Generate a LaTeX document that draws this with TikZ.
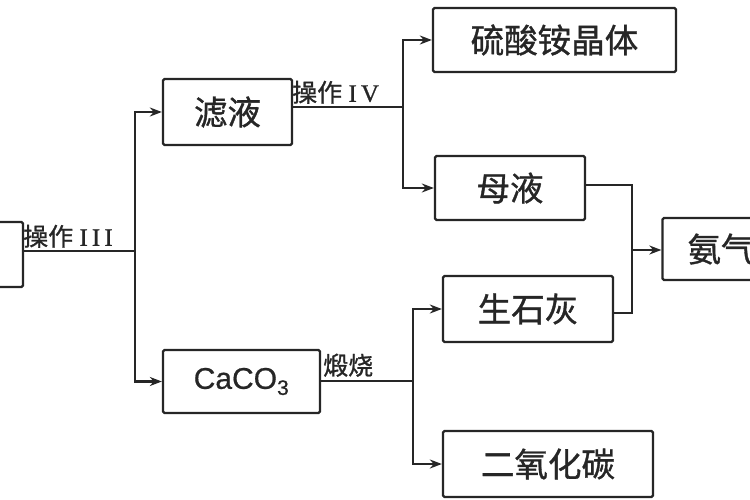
\documentclass[tikz,border=0pt]{standalone}
\usepackage{fontspec}
\setmainfont{Liberation Serif}[FakeBold=0.8]
\newfontfamily\cjk{Noto Sans CJK SC}[FakeBold=1]
\newfontfamily\lsans{Liberation Sans}[FakeBold=0.6]
\usetikzlibrary{arrows.meta}
\definecolor{ink}{HTML}{262626}
\tikzset{
  box/.style={draw=ink, line width=2.3pt, rounded corners=1.5pt, fill=white, inner sep=0pt, text=ink, font=\cjk\fontsize{33.5}{34}\selectfont},
  conn/.style={draw=ink, line width=2.1pt},
  arr/.style={conn, -{Stealth[length=12pt,width=9pt]}},
  lbl/.style={text=ink, inner sep=1pt, font=\fontsize{25}{27}\selectfont}
}
\begin{document}
\begin{tikzpicture}[x=1pt,y=-1pt]
\useasboundingbox (0,0) rectangle (750,500);
% boxes
\node[box, minimum width=40pt, minimum height=65pt] (L) at (3,254.5) {};
\node[box, minimum width=129pt, minimum height=66pt] (F) at (227.5,112) {滤液};
\node[box, minimum width=157pt, minimum height=63pt, font=\lsans\fontsize{30}{31}\selectfont] (C) at (241.5,381.5) {CaCO\textsubscript{3}};
\node[box, minimum width=243pt, minimum height=64pt] (S) at (554.5,40) {硫酸铵晶体};
\node[box, minimum width=150pt, minimum height=64pt] (M) at (510,188) {母液};
\node[box, minimum width=170pt, minimum height=66pt] (Q) at (528,309) {生石灰};
\node[box, minimum width=210pt, minimum height=66pt] (D) at (548,464) {二氧化碳};
\node[box, minimum width=117pt, minimum height=62pt] (A) at (721,249) {氨气};
% junction coordinates
\coordinate (b1) at (135,251);
\coordinate (b2) at (403,107);
\coordinate (b3) at (413,381);
\coordinate (b4) at (632,250);
\coordinate (m1) at (632,185);
\coordinate (q1) at (632,313);
% connectors
\draw[conn] (L.east |- b1) -- (b1);
\draw[arr] (b1) |- (F.west);
\draw[arr] (b1) |- (C.west);
\draw[conn] (F.east |- b2) -- (b2);
\draw[arr] (b2) |- (S.west);
\draw[arr] (b2) |- (M.west);
\draw[conn] (C.east |- b3) -- (b3);
\draw[arr] (b3) |- (Q.west);
\draw[arr] (b3) |- (D.west);
\draw[conn] (M.east |- m1) -- (m1) -- (q1) -- (Q.east |- q1);
\draw[arr] (b4) -- (A.west |- b4);
% labels
\node[lbl, anchor=south west] (l3) at (22,249) {{\cjk 操作} I\,I\,I};
\node[lbl, anchor=south west] (l4) at (291,105) {{\cjk 操作} I\,V};
\node[lbl, anchor=south west] (l5) at (322,378) {{\cjk 煅烧}};
\end{tikzpicture}
\end{document}
